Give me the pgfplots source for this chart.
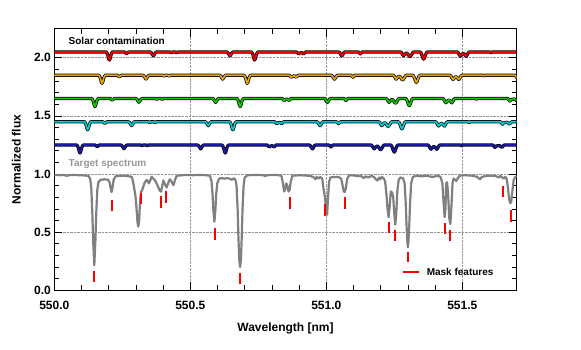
\documentclass[border=0pt]{standalone}
\usepackage{fontspec}
\setmainfont{Liberation Sans}
\usepackage{pgfplots}
\usepackage{pgfplotstable}
\pgfplotsset{compat=1.18}
\definecolor{sred}{RGB}{240,0,0}
\definecolor{sorange}{RGB}{228,165,10}
\definecolor{sgreen}{RGB}{20,200,0}
\definecolor{scyan}{RGB}{0,205,210}
\definecolor{sblue}{RGB}{25,25,165}
\definecolor{tgray}{RGB}{128,128,128}
\definecolor{lgray}{RGB}{150,150,150}
\newcommand{\lbl}{\fontsize{12}{14}\selectfont\bfseries}
\newcommand{\sml}{\fontsize{10}{12}\selectfont\bfseries}

% solar template (red = unshifted), continuum 1
\pgfplotstableread{
wl f
550.000 1.000
550.190 1.000
550.1925 0.995
550.1965 0.975
550.1995 0.945
550.2025 0.930
550.2055 0.945
550.2085 0.975
550.2125 0.995
550.215 1.000
550.258 1.000
550.262 0.993
550.266 0.985
550.270 0.993
550.274 1.000
550.352 1.000
550.356 0.995
550.360 0.980
550.364 0.967
550.368 0.980
550.372 0.995
550.376 1.000
550.425 1.000
550.430 0.992
550.435 1.000
550.445 1.000
550.450 0.992
550.455 1.000
550.634 1.000
550.638 0.995
550.642 0.980
550.646 0.966
550.650 0.980
550.654 0.995
550.658 1.000
550.723 1.000
550.7265 0.995
550.7305 0.975
550.7335 0.945
550.7365 0.930
550.7395 0.945
550.7425 0.975
550.7465 0.995
550.750 1.000
550.890 1.000
550.894 0.992
550.898 0.982
550.902 0.990
550.908 0.994
550.912 0.990
550.916 0.982
550.920 0.992
550.924 1.000
551.045 1.000
551.049 0.995
551.053 0.978
551.057 0.966
551.061 0.978
551.065 0.995
551.069 1.000
551.117 1.000
551.121 0.993
551.125 0.983
551.129 0.993
551.133 1.000
551.272 1.000
551.276 0.995
551.280 0.978
551.284 0.966
551.288 0.978
551.293 0.990
551.297 0.990
551.301 0.978
551.305 0.963
551.309 0.960
551.313 0.975
551.318 0.995
551.322 1.000
551.344 1.000
551.348 0.993
551.352 0.970
551.355 0.948
551.358 0.938
551.361 0.948
551.364 0.970
551.368 0.993
551.372 1.000
551.481 1.000
551.485 0.993
551.489 0.975
551.493 0.963
551.497 0.975
551.5035 0.988
551.510 0.975
551.514 0.962
551.518 0.975
551.522 0.993
551.526 1.000
551.600 1.000
551.605 0.995
551.610 1.000
551.720 1.000
551.724 0.990
551.728 0.978
551.732 0.990
551.737 0.993
551.745 0.995
551.750 0.985
551.754 0.980
551.758 0.990
551.762 1.000
551.820 1.000
}\solar

\pgfplotstableread{
wl f
550.000 0.992
550.020 0.990
550.035 0.993
550.045 0.985
550.055 0.990
550.070 0.992
550.090 0.990
550.110 0.988
550.125 0.985
550.132 0.960
550.136 0.880
550.140 0.650
550.143 0.420
550.147 0.215
550.151 0.420
550.154 0.650
550.158 0.860
550.162 0.930
550.170 0.950
550.185 0.955
550.198 0.950
550.203 0.930
550.207 0.880
550.2105 0.845
550.214 0.880
550.218 0.950
550.225 0.980
550.240 0.985
550.260 0.985
550.275 0.980
550.285 0.975
550.290 0.930
550.295 0.860
550.299 0.800
550.303 0.680
550.306 0.580
550.309 0.548
550.312 0.600
550.315 0.760
550.319 0.850
550.323 0.860
550.327 0.890
550.333 0.930
550.340 0.950
550.348 0.920
550.358 0.975
550.366 0.955
550.372 0.940
550.380 0.900
550.387 0.860
550.3925 0.848
550.397 0.900
550.401 0.945
550.407 0.910
550.413 0.885
550.419 0.925
550.425 0.955
550.431 0.935
550.438 0.905
550.444 0.950
550.450 0.985
550.470 0.990
550.490 0.992
550.510 0.990
550.530 0.992
550.560 0.990
550.572 0.985
550.578 0.940
550.582 0.820
550.585 0.680
550.5885 0.590
550.592 0.680
550.595 0.820
550.599 0.920
550.606 0.960
550.615 0.965
550.625 0.960
550.635 0.965
550.645 0.960
550.653 0.950
550.660 0.965
550.666 0.950
550.670 0.900
550.674 0.700
550.677 0.450
550.680 0.260
550.683 0.200
550.686 0.260
550.689 0.450
550.692 0.700
550.696 0.900
550.700 0.970
550.710 0.990
550.740 0.992
550.770 0.990
550.775 0.980
550.780 0.990
550.820 0.992
550.835 0.985
550.840 0.930
550.845 0.850
550.849 0.870
550.853 0.920
550.857 0.900
550.861 0.850
550.865 0.860
550.869 0.930
550.875 0.985
550.900 0.990
550.940 0.985
550.955 0.970
550.960 0.955
550.965 0.975
550.972 0.960
550.978 0.975
550.985 0.960
550.990 0.870
550.993 0.830
550.996 0.780
551.000 0.660
551.003 0.650
551.006 0.780
551.010 0.930
551.015 0.970
551.030 0.975
551.045 0.975
551.055 0.960
551.060 0.900
551.064 0.850
551.068 0.845
551.072 0.880
551.077 0.960
551.083 0.985
551.090 0.990
551.110 0.985
551.130 0.980
551.137 0.965
551.145 0.980
551.155 0.970
551.165 0.985
551.175 0.975
551.182 0.955
551.188 0.945
551.194 0.970
551.198 0.955
551.204 0.975
551.210 0.965
551.216 0.940
551.221 0.830
551.225 0.700
551.229 0.630
551.233 0.720
551.237 0.850
551.242 0.840
551.246 0.800
551.250 0.660
551.2535 0.565
551.257 0.650
551.261 0.850
551.266 0.950
551.272 0.970
551.282 0.965
551.288 0.920
551.292 0.750
551.295 0.560
551.298 0.420
551.300 0.370
551.302 0.420
551.305 0.560
551.308 0.750
551.312 0.920
551.318 0.975
551.330 0.985
551.350 0.980
551.370 0.985
551.390 0.975
551.410 0.985
551.420 0.975
551.427 0.920
551.431 0.760
551.435 0.630
551.438 0.700
551.441 0.920
551.444 0.930
551.448 0.820
551.452 0.620
551.456 0.570
551.460 0.720
551.464 0.920
551.468 0.960
551.474 0.950
551.478 0.940
551.484 0.965
551.490 0.985
551.510 0.990
551.540 0.985
551.555 0.975
551.565 0.955
551.572 0.975
551.590 0.985
551.620 0.985
551.635 0.970
551.640 0.985
551.645 0.975
551.652 0.960
551.658 0.975
551.663 0.960
551.668 0.880
551.672 0.790
551.676 0.750
551.680 0.760
551.684 0.850
551.689 0.950
551.695 0.975
551.700 0.975
}\target

\begin{document}
\begin{tikzpicture}
\begin{axis}[
  scale only axis,
  width=462.4pt, height=261.6pt,
  xmin=550, xmax=551.7, ymin=0, ymax=2.25,
  xtick={550,550.5,551,551.5}, minor x tick num=4,
  ytick={0,0.5,1,1.5,2}, minor y tick num=4,
  tick align=inside,
  major tick length=8pt, minor tick length=5pt,
  tick style={black, line width=0.8pt},
  axis line style={line width=1pt},
  grid=major,
  major grid style={densely dotted, lgray, line width=0.8pt},
  /pgf/number format/assume math mode=true,
  xticklabel style={font=\lbl, yshift=-7pt, /pgf/number format/.cd, fixed, fixed zerofill, precision=1, 1000 sep={}},
  yticklabel style={font=\lbl, /pgf/number format/.cd, fixed, fixed zerofill, precision=1},
  xlabel={Wavelength [nm]},
  ylabel={Normalized flux},
  xlabel style={font=\lbl, at={(axis description cs:0.5,-0.145)}, anchor=center},
  ylabel style={font=\lbl, at={(axis description cs:-0.082,0.5)}, anchor=center},
  legend style={at={(axis description cs:0.745,0.069)}, anchor=west, draw=none, fill=none, font=\sml},
  legend image code/.code={\draw[#1, line width=1.6pt] (0pt,0pt) -- (16.6pt,0pt); \path (21pt,0pt);},
  line join=round,
]
% solar contamination, same template at five Doppler shifts
\addplot[black, line width=3.2pt, forget plot] table[x expr=\thisrow{wl}, y expr=\thisrow{f}+1.05] {\solar};
\addplot[sred, line width=1.7pt, forget plot] table[x expr=\thisrow{wl}, y expr=\thisrow{f}+1.05] {\solar};
\addplot[black, line width=3.2pt, forget plot] table[x expr=\thisrow{wl}-0.027, y expr=\thisrow{f}+0.85] {\solar};
\addplot[sorange, line width=1.7pt, forget plot] table[x expr=\thisrow{wl}-0.027, y expr=\thisrow{f}+0.85] {\solar};
\addplot[black, line width=3.2pt, forget plot] table[x expr=\thisrow{wl}-0.053, y expr=\thisrow{f}+0.65] {\solar};
\addplot[sgreen, line width=1.7pt, forget plot] table[x expr=\thisrow{wl}-0.053, y expr=\thisrow{f}+0.65] {\solar};
\addplot[black, line width=3.2pt, forget plot] table[x expr=\thisrow{wl}-0.080, y expr=\thisrow{f}+0.45] {\solar};
\addplot[scyan, line width=1.7pt, forget plot] table[x expr=\thisrow{wl}-0.080, y expr=\thisrow{f}+0.45] {\solar};
\addplot[black, line width=3.2pt, forget plot] table[x expr=\thisrow{wl}-0.108, y expr=\thisrow{f}+0.25] {\solar};
\addplot[sblue, line width=1.7pt, forget plot] table[x expr=\thisrow{wl}-0.108, y expr=\thisrow{f}+0.25] {\solar};
% target spectrum
\addplot[tgray, line width=2.2pt, forget plot] table[x=wl, y=f] {\target};
% mask features
\addplot[red, line width=2pt, unbounded coords=jump] coordinates {
(550.147,0.17)(550.147,0.07)(550.147,nan)
(550.211,0.78)(550.211,0.68)(550.211,nan)
(550.319,0.836)(550.319,0.74)(550.319,nan)
(550.3926,0.807)(550.3926,0.707)(550.3926,nan)
(550.411,0.85)(550.411,0.75)(550.411,nan)
(550.589,0.54)(550.589,0.43)(550.589,nan)
(550.683,0.15)(550.683,0.05)(550.683,nan)
(550.865,0.80)(550.865,0.70)(550.865,nan)
(550.997,0.74)(550.997,0.64)(550.997,nan)
(551.068,0.80)(551.068,0.70)(551.068,nan)
(551.229,0.586)(551.229,0.49)(551.229,nan)
(551.254,0.52)(551.254,0.42)(551.254,nan)
(551.300,0.33)(551.300,0.245)(551.300,nan)
(551.436,0.58)(551.436,0.48)(551.436,nan)
(551.456,0.52)(551.456,0.42)(551.456,nan)
(551.650,0.90)(551.650,0.80)(551.650,nan)
(551.678,0.69)(551.678,0.59)
};
\addlegendentry{Mask features}
\node[anchor=west, font=\sml, text=black] at (axis cs:550.040,2.143) {Solar contamination};
\node[anchor=west, font=\sml, text=lgray] at (axis cs:550.040,1.089) {Target spectrum};
\end{axis}
\pgfresetboundingbox
\useasboundingbox (-54.3pt,-58.7pt) rectangle (526.7pt,290.3pt);
\end{tikzpicture}
\end{document}
